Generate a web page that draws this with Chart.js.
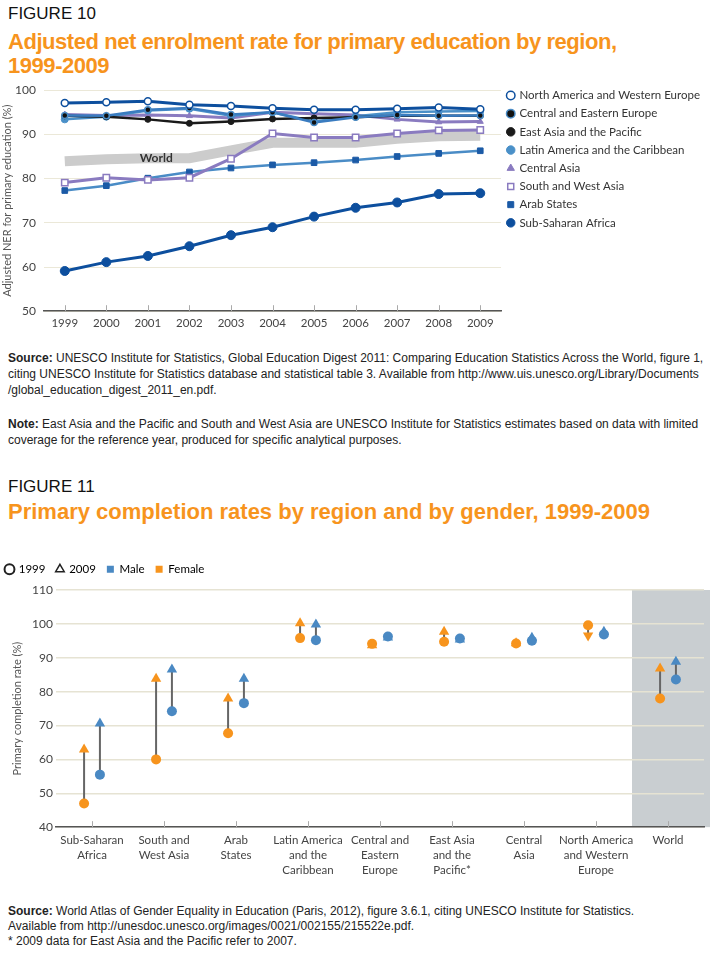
<!DOCTYPE html>
<html>
<head>
<meta charset="utf-8">
<script src="https://cdn.jsdelivr.net/npm/chart.js@4.4.0/dist/chart.umd.min.js"></script>
<style>
  body { margin: 0; width: 710px; height: 955px; background: #fff; position: relative; overflow: hidden; font-family: "Liberation Sans", Arial, sans-serif; }
  .fig { position: absolute; left: 8px; font-size: 17px; color: #111; line-height: 20px; }
  .title { position: absolute; left: 8px; font-weight: bold; font-size: 22px; line-height: 24px; color: #f7941d; }
  .src { position: absolute; left: 8px; font-size: 12px; line-height: 16px; color: #222; white-space: nowrap; }
  .box { position: absolute; left: 0; width: 710px; }
  .preload { position: absolute; left: -999px; font-family: Lato; }
</style>
</head>
<body>
<span class="preload">World <b>World</b></span>
<div class="fig" style="top:4px">FIGURE 10</div>
<div class="title" style="top:30px;letter-spacing:-0.45px">Adjusted net enrolment rate for primary education by region,<br>1999-2009</div>
<div class="box" style="top:75px;height:260px"><canvas id="enrol"></canvas></div>
<div class="src" style="top:350px"><b>Source:</b> UNESCO Institute for Statistics, Global Education Digest 2011: Comparing Education Statistics Across the World, figure 1,<br>citing UNESCO Institute for Statistics database and statistical table 3. Available from http://www.uis.unesco.org/Library/Documents<br>/global_education_digest_2011_en.pdf.</div>
<div class="src" style="top:416px"><b>Note:</b> East Asia and the Pacific and South and West Asia are UNESCO Institute for Statistics estimates based on data with limited<br>coverage for the reference year, produced for specific analytical purposes.</div>

<div class="fig" style="top:477px">FIGURE 11</div>
<div class="title" style="top:500px">Primary completion rates by region and by gender, 1999-2009</div>
<div class="box" style="top:547px;height:337px"><canvas id="completion"></canvas></div>
<div class="src" style="top:904px;line-height:15px"><b>Source:</b> World Atlas of Gender Equality in Education (Paris, 2012), figure 3.6.1, citing UNESCO Institute for Statistics.<br>Available from http://unesdoc.unesco.org/images/0021/002155/215522e.pdf.<br>* 2009 data for East Asia and the Pacific refer to 2007.</div>

<script>
// figure 10
const years = ['1999', '2000', '2001', '2002', '2003', '2004', '2005', '2006', '2007', '2008', '2009']
const naWesternEurope = [97.1, 97.3, 97.5, 96.7, 96.4, 95.9, 95.6, 95.6, 95.8, 96.1, 95.7]
const centralEasternEurope = [94.3, 94.2, 95.6, 96.0, 94.5, 95.0, 92.7, 93.9, 94.4, 94.2, 94.3]
const eastAsiaPacific = [94.2, 94.0, 93.4, 92.5, 92.9, 93.5, 93.7, 93.9, 94.3, 94.2, 94.2]
const latinAmerica = [93.4, 94.0, 95.4, 95.8, 94.2, 95.0, 92.9, 94.1, 95.0, 95.2, 95.3]
const centralAsia = [94.5, 94.3, 94.4, 94.2, 93.7, 95.0, 94.7, 94.4, 93.4, 92.8, 92.9]
const southWestAsia = [79.1, 80.2, 79.7, 80.2, 84.5, 90.2, 89.3, 89.3, 90.2, 90.9, 91.0]
const arabStates = [77.3, 78.4, 80.1, 81.5, 82.4, 83.1, 83.6, 84.2, 85.0, 85.7, 86.3]
const subSaharanAfrica = [59.1, 61.1, 62.5, 64.7, 67.2, 69.0, 71.4, 73.4, 74.6, 76.5, 76.7]
const world = [83.9, 84.4, 84.6, 84.6, 86.4, 88.1, 88.1, 88.1, 89.0, 89.6, 89.7]

// figure 11
const regions = [
  ['Sub-Saharan', 'Africa'], ['South and', 'West Asia'], ['Arab', 'States'],
  ['Latin America', 'and the', 'Caribbean'], ['Central and', 'Eastern', 'Europe'],
  ['East Asia', 'and the', 'Pacific*'], ['Central', 'Asia'],
  ['North America', 'and Western', 'Europe'], ['World']
]
const female1999 = [47.0, 60.0, 67.7, 95.8, 94.1, 94.7, 94.2, 99.6, 78.0]
const female2009 = [62.9, 83.8, 78.0, 100.2, 93.7, 97.7, 94.3, 96.6, 86.8]
const male1999 = [55.5, 74.2, 76.6, 95.2, 96.3, 95.7, 95.0, 96.9, 83.6]
const male2009 = [70.6, 86.5, 83.8, 99.8, 96.0, 95.4, 95.9, 97.7, 88.8]

const darkBlue = '#0d4f9e'
const midBlue = '#4a8cc6'
const purple = '#8a7bc0'
const orange = '#f7941d'
const maleBlue = '#4a89c3'
const font = 'Lato'

const line = (label, data, color, extra) => Object.assign({
  label,
  data,
  borderColor: color,
  backgroundColor: color,
  borderWidth: 2.5,
  pointRadius: 3,
  pointBorderWidth: 1,
  pointBackgroundColor: color,
  pointBorderColor: color,
  tension: 0
}, extra)

// short tick marks standing up from the x axis
const upTicks = {
  id: 'upTicks',
  afterDraw(chart) {
    const { ctx, scales: { x }, chartArea } = chart
    ctx.save()
    ctx.strokeStyle = '#aaa'
    ctx.lineWidth = 1
    x.ticks.forEach((t, i) => {
      const px = Math.round(x.getPixelForTick(i)) + 0.5
      ctx.beginPath()
      ctx.moveTo(px, chartArea.bottom)
      ctx.lineTo(px, chartArea.bottom - 6)
      ctx.stroke()
    })
    ctx.restore()
  }
}

const worldLabel = {
  id: 'worldLabel',
  afterDatasetDraw(chart, args) {
    if (chart.data.datasets[args.index].label !== 'World') return
    const pts = args.meta.data
    const ctx = chart.ctx
    ctx.save()
    ctx.font = 'bold 12px ' + font
    ctx.fillStyle = '#333'
    ctx.textAlign = 'center'
    ctx.textBaseline = 'middle'
    ctx.fillText('World', pts[2].x + (pts[3].x - pts[2].x) * 0.2, pts[2].y)
    ctx.restore()
  }
}

const worldBand = {
  id: 'worldBand',
  beforeDraw(chart) {
    const { ctx, scales: { x, y } } = chart
    const left = x.getPixelForValue(regions.length - 1.5)
    const top = y.getPixelForValue(110)
    ctx.save()
    ctx.fillStyle = '#c9ced1'
    ctx.fillRect(left, top, chart.width - left, y.getPixelForValue(40) - top)
    ctx.restore()
  }
}

// lift the top legend a few px above the plot
const legendNudge = {
  id: 'legendNudge',
  afterLayout(chart) {
    if (!chart.legend) return
    chart.legend.top -= 5
    chart.legend.bottom -= 5
  }
}

const off = 0.11
const points = (vals, shift) => vals.map((v, i) => ({ x: i + shift, y: v }))
const stems = (from, to, shift) => from.flatMap((v, i) => [
  { x: i + shift, y: v }, { x: i + shift, y: to[i] }, { x: i + shift, y: null }
])

const scatter = (label, data, color, style, rotation, order) => ({
  type: 'scatter',
  label,
  data,
  pointStyle: style,
  rotation,
  pointRadius: style === 'triangle' ? 6 : 5,
  backgroundColor: color,
  borderColor: color,
  borderWidth: 0,
  order
})

function draw() {
  new Chart(document.getElementById('enrol'), {
    type: 'line',
    data: {
      labels: years,
      datasets: [
        line('North America and Western Europe', naWesternEurope, darkBlue, { borderWidth: 3, pointRadius: 3.5, pointBackgroundColor: '#fff', pointBorderWidth: 1.5 }),
        line('Central and Eastern Europe', centralEasternEurope, '#3a7cc0', { pointBackgroundColor: '#111', pointBorderColor: midBlue, pointBorderWidth: 1.5 }),
        line('East Asia and the Pacific', eastAsiaPacific, '#1a1a1a'),
        line('Latin America and the Caribbean', latinAmerica, '#4a90c8', { pointRadius: 3.5 }),
        line('Central Asia', centralAsia, purple, { borderWidth: 3, pointStyle: 'triangle', pointRadius: 3.5 }),
        line('South and West Asia', southWestAsia, purple, { borderWidth: 3, pointStyle: 'rect', pointRadius: 4.5, pointBackgroundColor: '#fff', pointBorderWidth: 1.5 }),
        line('Arab States', arabStates, midBlue, { pointStyle: 'rect', pointRadius: 4, pointBackgroundColor: '#1b5aa6', pointBorderColor: '#1b5aa6' }),
        line('Sub-Saharan Africa', subSaharanAfrica, darkBlue, { borderWidth: 3, pointRadius: 4.5 }),
        line('World', world, '#cccccc', { borderWidth: 10, pointRadius: 0 })
      ]
    },
    options: {
      responsive: true,
      maintainAspectRatio: false,
      animation: false,
      layout: { padding: { top: 0, right: 0, bottom: 0 } },
      plugins: {
        legend: {
          position: 'right',
          align: 'start',
          maxWidth: 230,
          onClick: null,
          // empty title only pushes the legend rows down a little
          title: { display: true, text: ' ', font: { size: 5 }, padding: { top: 1, bottom: 1 } },
          labels: {
            usePointStyle: true,
            boxWidth: 6,
            boxHeight: 6,
            padding: 6.7,
            color: '#333',
            font: { family: font, size: 11.5 },
            filter: item => item.text !== 'World'
          }
        },
        tooltip: { enabled: false }
      },
      scales: {
        x: {
          offset: true,
          grid: { display: false, drawTicks: false },
          border: { color: '#555', width: 1.5 },
          ticks: { color: '#444', font: { family: font, size: 11.5 }, padding: 5 }
        },
        y: {
          min: 50,
          max: 100,
          afterFit: s => { s.width = 44 },
          ticks: { stepSize: 10, color: '#444', font: { family: font, size: 12 }, padding: 8 },
          grid: { color: '#ebe8d8', lineWidth: 1, drawTicks: false },
          border: { display: false },
          title: { display: true, text: 'Adjusted NER for primary education (%)', color: '#555', font: { family: font, size: 11 }, padding: 1 }
        }
      }
    },
    plugins: [worldLabel, upTicks]
  })

  new Chart(document.getElementById('completion'), {
    type: 'line',
    data: {
      datasets: [
        scatter('Female 1999', points(female1999, -off), orange, 'circle', 0, 1),
        scatter('Male 1999', points(male1999, off), maleBlue, 'circle', 0, 1),
        scatter('Female 2009', points(female2009, -off), orange, 'triangle', female2009.map((v, i) => v < female1999[i] - 1 ? 180 : 0), 2),
        scatter('Male 2009', points(male2009, off), maleBlue, 'triangle', male2009.map((v, i) => v < male1999[i] - 1 ? 180 : 0), 2),
        { label: 'stem f', data: stems(female1999, female2009, -off), borderColor: '#666', borderWidth: 2, pointRadius: 0, spanGaps: false, order: 3 },
        { label: 'stem m', data: stems(male1999, male2009, off), borderColor: '#666', borderWidth: 2, pointRadius: 0, spanGaps: false, order: 3 }
      ]
    },
    options: {
      responsive: true,
      maintainAspectRatio: false,
      animation: false,
      layout: { padding: { top: 0, right: 0, left: -5, bottom: 0 } },
      plugins: {
        legend: {
          position: 'top',
          align: 'start',
          onClick: null,
          labels: {
            usePointStyle: true,
            boxWidth: 7,
            boxHeight: 7,
            padding: 11,
            color: '#333',
            font: { family: font, size: 11.5 },
            generateLabels: () => [
              { text: '1999', pointStyle: 'circle', fillStyle: '#fff', strokeStyle: '#222', lineWidth: 2, hidden: false },
              { text: '2009', pointStyle: 'triangle', fillStyle: '#fff', strokeStyle: '#222', lineWidth: 1.5, hidden: false },
              { text: 'Male', pointStyle: 'rect', fillStyle: maleBlue, strokeStyle: maleBlue, lineWidth: 0, hidden: false },
              { text: 'Female', pointStyle: 'rect', fillStyle: orange, strokeStyle: orange, lineWidth: 0, hidden: false }
            ]
          }
        },
        tooltip: { enabled: false }
      },
      scales: {
        x: {
          type: 'linear',
          min: -0.5,
          max: regions.length - 0.5,
          afterBuildTicks: s => { s.ticks = regions.map((r, i) => ({ value: i })) },
          grid: { display: false, drawTicks: false },
          border: { color: '#555', width: 1.5 },
          ticks: { color: '#444', font: { family: font, size: 11.5, lineHeight: 1.3 }, padding: 6, maxRotation: 0, autoSkip: false, callback: v => regions[v] }
        },
        y: {
          min: 40,
          max: 110,
          // fixed axis width, and a gap under the legend
          afterFit: s => { s.width = 61; s.paddingTop = 43 },
          ticks: { stepSize: 10, color: '#444', font: { family: font, size: 12 }, padding: 3 },
          grid: { color: '#e6e3d3', lineWidth: 1.5, drawTicks: false },
          border: { display: false },
          title: { display: true, text: 'Primary completion rate (%)', color: '#555', font: { family: font, size: 11 }, padding: { top: 16, bottom: 4 } }
        }
      }
    },
    plugins: [worldBand, upTicks, legendNudge]
  })
}

Promise.all([document.fonts.load('11px Lato'), document.fonts.load('bold 12px Lato')]).then(draw, draw)
</script>
</body>
</html>
